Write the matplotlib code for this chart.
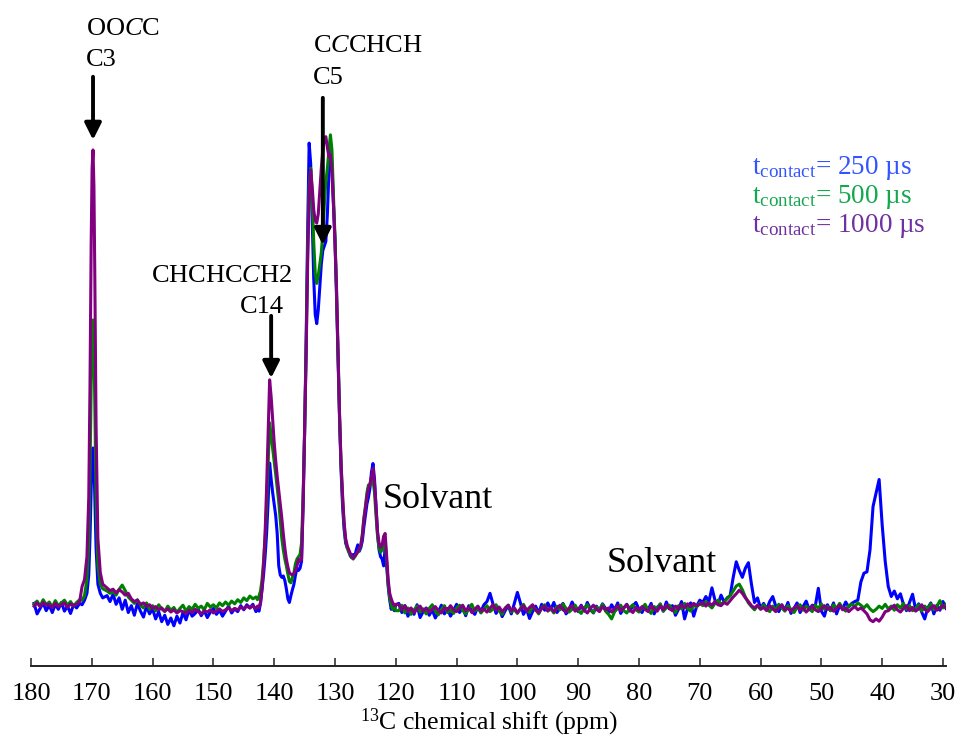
import matplotlib
matplotlib.use("Agg")
import matplotlib.pyplot as plt

plt.rcParams['font.family'] = 'Liberation Serif'
plt.rcParams['mathtext.fontset'] = 'custom'
plt.rcParams['mathtext.rm'] = 'Liberation Serif'
plt.rcParams['mathtext.it'] = 'Liberation Serif:italic'
plt.rcParams['mathtext.bf'] = 'Liberation Serif:bold'

# chemical shift grid (ppm), finer around the peaks
ppm = [
    179.5, 179.0, 178.5, 178.0, 177.5, 177.0, 176.5, 176.0, 175.5, 175.0, 174.5, 174.0, 173.5, 173.0, 172.5, 172.0,
    171.6, 171.2, 170.8, 170.5, 170.3, 170.1, 169.95, 169.8, 169.65, 169.5, 169.3, 169.0, 168.6, 168.2,
    167.5, 167.0, 166.5, 166.0, 165.5, 165.0, 164.5, 164.0, 163.5, 163.0, 162.5, 162.0, 161.5, 161.0, 160.5, 160.0,
    159.5, 159.0, 158.5, 158.0, 157.5, 157.0, 156.5, 156.0, 155.5, 155.0, 154.5, 154.0, 153.5, 153.0, 152.5, 152.0,
    151.5, 151.0, 150.5, 150.0, 149.5, 149.0, 148.5, 148.0, 147.5, 147.0, 146.5, 146.0, 145.5, 145.0, 144.5, 144.0, 143.5,
    143.0, 142.75, 142.5, 142.25, 142.0, 141.75, 141.5, 141.25, 141.0, 140.75, 140.5, 140.25,
    140.0, 139.75, 139.5, 139.25, 139.0, 138.75, 138.5, 138.25, 138.0, 137.75, 137.5, 137.25,
    137.0, 136.75, 136.5, 136.25, 136.0, 135.75, 135.5, 135.25, 135.0, 134.75, 134.5, 134.25,
    134.0, 133.75, 133.5, 133.25, 133.0, 132.75, 132.5, 132.25, 132.0, 131.75, 131.5, 131.25,
    131.0, 130.75, 130.5, 130.25, 130.0, 129.75, 129.5, 129.25, 129.0, 128.75, 128.5, 128.25,
    128.0, 127.75, 127.5, 127.25, 127.0, 126.75, 126.5, 126.25, 126.0, 125.75, 125.5, 125.25,
    125.0, 124.75, 124.5, 124.25, 124.0, 123.75, 123.5, 123.25, 123.0, 122.75, 122.5, 122.25,
    122.0, 121.75, 121.5, 121.25, 121.0, 120.75, 120.5, 120.25, 120.0,
    119.5, 119.0, 118.5, 118.0, 117.5, 117.0, 116.5, 116.0, 115.5, 115.0,
    114.5, 114.0, 113.5, 113.0, 112.5, 112.0, 111.5, 111.0, 110.5, 110.0,
    109.5, 109.0, 108.5, 108.0, 107.5, 107.0, 106.5, 106.0, 105.5, 105.0,
    104.5, 104.0, 103.5, 103.0, 102.5, 102.0, 101.5, 101.0, 100.5, 100.0,
    99.5, 99.0, 98.5, 98.0, 97.5, 97.0, 96.5, 96.0, 95.5, 95.0,
    94.5, 94.0, 93.5, 93.0, 92.5, 92.0, 91.5, 91.0, 90.5, 90.0,
    89.5, 89.0, 88.5, 88.0, 87.5, 87.0, 86.5, 86.0, 85.5, 85.0,
    84.5, 84.0, 83.5, 83.0, 82.5, 82.0, 81.5, 81.0, 80.5, 80.0,
    79.5, 79.0, 78.5, 78.0, 77.5, 77.0, 76.5, 76.0, 75.5, 75.0,
    74.5, 74.0, 73.5, 73.0, 72.5, 72.0, 71.5, 71.0, 70.5, 70.0,
    69.5, 69.0, 68.5, 68.0, 67.5, 67.0, 66.5, 66.0, 65.5, 65.0,
    64.5, 64.0, 63.5, 63.0, 62.5, 62.0, 61.5, 61.0, 60.5, 60.0,
    59.5, 59.0, 58.5, 58.0, 57.5, 57.0, 56.5, 56.0, 55.5, 55.0,
    54.5, 54.0, 53.5, 53.0, 52.5, 52.0, 51.5, 51.0, 50.5, 50.0,
    49.5, 49.0, 48.5, 48.0, 47.5, 47.0, 46.5, 46.0, 45.5, 45.0,
    44.5, 44.0, 43.5, 43.0, 42.5, 42.0, 41.5, 41.0, 40.5, 40.0,
    39.5, 39.0, 38.5, 38.0, 37.5, 37.0, 36.5, 36.0, 35.5, 35.0,
    34.5, 34.0, 33.5, 33.0, 32.5, 32.0, 31.5, 31.0, 30.5, 30.0,
    29.5,
]

# t_contact = 250 us
int_250 = [
    0.8, -1.5, -0.3, 0.9, -0.8, 0.4, -1.2, 0.6, -0.5, 1.0, -0.9, 0.2, -1.4, 0.5, -0.2, 0.8,
    0.5, 1.5, 3, 7, 15, 26, 33, 34.8, 32, 24, 13, 5, 3.0, 2.0,
    2.5, 1.2, 2.8, 0.6, 2.0, -0.5, 1.5, -1.2, 0.3, -1.8, 0.8, -0.9, -2.2, 0.2, -1.5, -0.4,
    -2.6, -1.0, -3.2, -1.8, -3.8, -2.4, -4.1, -2.0, -3.5, -1.2, -2.8, -0.6, -2.0, -1.4, -0.5, -1.9,
    -0.8, -2.3, -1.1, -0.3, -1.6, -0.7, -2.0, -0.9, 0.2, -1.3, -0.4, -1.0, 0.3, -0.6, 0.5, -0.2, 0.6,
    -1.0, -0.3, -0.9, 0.8, 4, 7, 11, 16, 23, 31.5, 28, 25,
    22.5, 20, 16, 9, 7, 6.5, 6.8, 5.8, 4.0, 1.8, 1.0, 2.5,
    3.8, 5.0, 7.0, 8.5, 8.0, 8.5, 10, 22, 38, 58, 82, 101.5,
    97, 85, 72, 64, 62, 65, 70, 75, 78, 79, 80, 86,
    95, 100, 97, 88, 80, 68, 54, 41, 30, 22, 17, 14,
    13, 12.5, 11.2, 10.8, 11.5, 11.0, 12.5, 13.6, 12.2, 13.0, 14.5, 17.5,
    20, 22.5, 24, 26, 29.5, 31.4, 28, 22, 16, 12.5, 11.0, 10.5,
    9.0, 13, 9, 4.5, 1.5, -0.5, 0.8, -0.8, 0.5,
    0.8, -1.2, 0.3, -2.0, -0.5, -1.6, 0.5, -2.3, -1.0, -0.2,
    -1.8, -0.6, -2.4, -1.1, 0.4, -1.5, -0.3, -2.0, -0.8, 0.6,
    -1.2, -0.1, -1.9, 0.3, -0.9, -1.6, 0.1, -1.0, 0.5, 1.2,
    3.0, 0.6, -1.4, -0.2, -2.1, -0.8, 0.3, -1.5, 0.8, 3.2,
    0.9, -1.6, -0.4, -2.5, -1.0, 0.2, -1.3, 0.6, -0.7, 0.9,
    -0.5, 1.0, -1.2, -0.3, 0.8, -1.5, -0.6, 1.1, -0.2, -1.0,
    0.4, -0.9, 1.0, -0.4, -1.3, 0.2, -0.8, 0.7, -0.3, -1.1,
    0.5, -0.6, 0.9, -1.4, -0.2, 0.6, -0.9, 0.3, 1.0, -0.5,
    -1.2, 0.2, -0.6, 0.8, -1.5, -0.1, 0.6, -0.9, 1.1, -0.4,
    0.3, -1.8, -0.5, 1.2, -2.6, -0.3, 0.9, -2.0, 0.2, 1.5,
    1.0, 2.3, 1.2, 4.2, 1.5, 0.6, 2.6, 1.1, 2.0, 2.5,
    6.5, 9.9, 8.0, 6.5, 8.5, 9.7, 5.0, 1.0, 2.0, -0.3,
    0.8, -0.5, 1.2, 2.3, 0.2, -1.0, 0.5, -0.7, 1.0, -1.4,
    -0.3, 0.9, -1.2, 0.1, 1.3, -0.6, 0.4, 0.2, 4.1, -0.9,
    -2.0, 0.5, -0.8, 0.9, -1.5, 0.3, -0.4, 1.1, 0.0, 0.8,
    1.2, 1.5, 5.5, 7.4, 7.7, 12.5, 22, 25, 27.9, 18,
    10, 4.5, 2.3, 3.5, 1.8, 2.9, 0.6, -0.8, 1.0, 2.8,
    -0.5, 0.7, -1.1, -2.6, -0.2, 0.9, -1.5, 0.4, -0.7, 1.2,
    -0.3,
]

# t_contact = 500 us
int_500 = [
    0.6, 1.3, 0.2, 1.6, 0.5, 1.1, 0.0, 1.4, 0.3, 0.9, 1.5, 0.4, 1.2, 0.2, 1.0, 1.6,
    1.5, 2.5, 6, 14, 29, 49, 59, 62.8, 57, 44, 24, 9, 5.0, 4.0,
    3.5, 3.0, 3.4, 2.6, 3.9, 4.8, 3.6, 2.2, 1.5, 0.8, 1.6, 0.4, -0.2, 0.9, -0.5, 0.3,
    -0.8, 0.5, -0.4, -1.0, 0.2, -0.7, -0.1, -1.2, -0.3, 0.4, -0.9, 0.1, -0.5, 0.6, -0.3, 0.2,
    -0.6, 0.8, 0.0, 0.5, -0.2, 0.9, 0.3, 1.1, 0.4, 1.3, 0.7, 1.6, 1.0, 2.0, 1.4, 2.4, 1.8,
    2.2, 1.6, 2.4, 3.5, 6, 10, 15, 22, 31, 40.3, 37.5, 34.5,
    32, 29, 26, 23, 19, 15, 12.5, 10.5, 9.0, 7.2, 5.6, 5.3,
    6.5, 7.5, 9.5, 10.5, 11, 11.5, 14, 24, 38, 56, 78, 92,
    96, 90, 80, 73, 70.8, 72.5, 75, 77.5, 82, 88, 93, 96,
    100, 103.3, 100, 90, 81, 69, 55, 42, 31, 23.5, 18, 14.5,
    13, 12, 11.5, 10.8, 10.5, 11.0, 11.5, 12, 12.5, 13.5, 16, 19.5,
    22, 25, 26.7, 26.5, 27, 28, 25, 20, 15.5, 13, 12, 12.5,
    14, 14.5, 10, 5, 2.0, 0.5, -0.5, 0.3, -0.8,
    -0.8, 0.4, -1.3, -0.2, -1.6, -0.6, 0.2, -1.1, -0.4, -1.5,
    -0.3, 0.5, -0.9, -1.7, -0.5, 0.3, -1.2, -0.6, -1.4, -0.2,
    0.4, -0.7, -1.5, -0.3, 0.6, -0.9, -0.1, -1.3, -0.5, 0.3,
    -1.0, -0.4, 0.5, -0.8, -1.6, -0.2, 0.4, -1.1, -0.6, -1.4,
    -0.3, 0.6, -0.7, -1.2, 0.1, -0.5, -1.5, -0.2, 0.5, -0.9,
    -0.4, -1.3, 0.2, -0.6, 0.7, -0.3, -1.1, -0.5, 0.4, -0.8,
    -1.4, -0.2, 0.5, -0.7, -1.2, 0.0, -0.6, 0.6, -0.9, -1.6,
    -2.6, -1.0, -0.3, 0.4, -0.8, -1.3, -0.1, 0.5, -0.6, -1.1,
    -0.2, 0.6, -0.7, -1.4, 0.1, -0.5, 0.7, -0.9, -0.2, 0.4,
    -0.6, -1.2, 0.3, -0.4, 0.8, -0.3, -0.9, 0.5, 0.0, 0.9,
    0.3, 1.2, 0.4, -0.2, 0.8, 1.5, 0.6, 1.1, 1.8, 2.5,
    3.5, 4.6, 5.0, 3.8, 2.2, 0.9, 0.1, -0.6, 0.3, -0.4,
    0.5, -0.3, -1.0, 0.2, -0.6, 0.6, -0.2, -0.9, 0.3, -0.5,
    -1.2, -0.1, 0.5, -0.7, 0.2, -0.4, -1.0, 0.4, -0.3, 0.7,
    -0.5, 0.1, -0.8, 0.5, -0.3, 0.8, -0.2, -0.9, 0.3, 0.6,
    0.1, 0.9, 0.4, -0.2, 0.5, -0.4, -1.0, -0.5, 0.2, -0.3,
    0.6, -0.4, 0.2, -0.7, 0.5, -0.2, 0.8, -0.5, 0.3, -0.8,
    -0.3, 0.5, -0.9, 0.2, -0.5, 0.7, -0.6, 0.1, 1.4, -0.2,
    0.6,
]

# t_contact = 1000 us
int_1000 = [
    0.2, 0.9, 0.1, 1.0, 0.4, 0.6, -0.2, 0.8, 0.1, 0.5, 0.9, -0.1, 0.7, 0.3, 0.6, 1.2,
    4.5, 6.0, 11, 24, 48, 80, 96, 100, 92, 72, 40, 15, 7.5, 5.0,
    4.2, 3.6, 3.9, 3.1, 3.8, 3.3, 2.6, 3.0, 1.8, 1.2, 1.5, 0.6, 0.9, 0.2, 0.5, -0.3,
    0.1, -0.6, -0.2, -0.9, -0.4, -1.1, -0.6, -1.3, -0.8, -1.0, -1.4, -0.7, -1.2, -0.5, -1.0, -1.5,
    -0.8, -1.1, -0.6, -1.3, -0.9, -0.4, -1.0, -0.6, -0.2, -0.8, -0.3, -0.6, 0.0, -0.4, 0.2, -0.2, 0.3,
    -0.4, 0.2, -0.1, 1.0, 4, 9, 16, 26, 38, 49.7, 46, 41,
    36, 32, 28.5, 25.5, 22.5, 19.5, 16, 13, 10.5, 8.8, 7.5, 7.2,
    7.0, 7.3, 8, 9, 10.5, 10, 10.5, 22, 38, 55, 75, 90,
    95.6, 92, 87, 84.5, 84, 86, 91, 96, 100, 102.5, 102.9, 100.5,
    98.5, 99, 95, 88, 80, 70, 56, 42, 31.5, 24.5, 18.5, 15,
    13.5, 12.5, 11.8, 11.0, 10.7, 11.2, 11.6, 12.2, 12.8, 13.5, 15.5, 19,
    21.5, 24, 26, 27, 28.5, 30.3, 27, 22, 16.5, 14, 13, 13.5,
    15.5, 16.1, 11, 6, 3.0, 1.8, 0.9, 0.3, 0.6,
    0.5, -0.6, 0.3, -1.0, -0.2, -1.2, -0.4, 0.2, -0.9, -0.3,
    -1.1, -0.5, 0.1, -0.8, -1.3, -0.2, -0.7, 0.3, -0.6, -1.0,
    -0.3, 0.4, -0.8, -0.1, -1.2, -0.5, 0.2, -0.9, -0.4, -1.1,
    -0.2, 0.5, -0.7, 0.0, -1.0, -0.3, 0.4, -0.8, -0.2, -1.2,
    -0.5, 0.3, -0.9, -0.1, 0.5, -0.7, -1.2, -0.3, 0.2, -0.8,
    -0.1, -1.0, -0.4, 0.4, -0.6, -1.1, -0.2, 0.3, -0.9, -0.4,
    0.2, -0.7, -1.3, -0.3, 0.4, -0.5, -1.0, 0.1, -0.6, -0.2,
    -1.1, -0.4, 0.3, -0.8, -0.2, 0.5, -0.6, -1.2, -0.1, -0.7,
    0.1, -0.5, -1.0, 0.3, -0.4, -0.9, 0.2, -0.6, 0.4, -0.3,
    -0.8, 0.2, -0.4, 0.5, -0.2, 0.7, 0.1, 0.8, 0.3, 0.6,
    1.0, 0.2, 0.9, 0.4, 1.2, 0.5, 0.3, 1.0, 0.6, 1.4,
    2.2, 2.9, 3.7, 3.0, 2.0, 1.2, 0.3, -0.2, 0.4, -0.5,
    -0.1, -0.8, 0.3, -0.4, -1.0, -0.2, 0.4, -0.6, -0.3, -0.9,
    -0.2, 0.3, -0.7, -0.1, -1.1, -0.4, 0.2, -0.6, -1.0, -0.3,
    0.3, -0.5, -0.1, -0.9, -0.3, 0.4, -0.6, -0.2, -1.0, -0.4,
    0.1, -0.6, -0.2, -0.8, -1.5, -2.8, -3.2, -2.6, -3.1, -2.2,
    -1.0, -0.8, -0.2, 0.4, -0.6, -1.1, -0.3, 0.3, -0.8, -0.1,
    -0.9, -0.4, 0.5, -0.5, -1.0, -0.2, 0.3, -0.7, -0.3, 0.4,
    -0.2,
]

series = [int_250, int_500, int_1000]
line_colors = ['#0000ff', '#008000', '#800080']
legend_labels = [r't$_{\mathrm{contact}}$= 250 µs',
                 r't$_{\mathrm{contact}}$= 500 µs',
                 r't$_{\mathrm{contact}}$= 1000 µs']
legend_colors = ['#3355ff', '#12a84e', '#7030a0']

xticks = [180, 170, 160, 150, 140, 130, 120, 110, 100, 90, 80, 70, 60, 50, 40, 30]

W, H = 963, 740


def fpos(x, y):
    # pixel position in the picture -> figure fraction
    return x / W, 1 - y / H


fig = plt.figure(figsize=(W / 100, H / 100), dpi=100)
ax = fig.add_axes([31 / W, 74 / H, 915 / W, 666 / H])

for vals, c in zip(series, line_colors):
    ax.plot(ppm, vals, color=c, lw=2.2, solid_joinstyle='round')

ax.set_xlim(180, 29.5)
ax.set_ylim(-12.9, 132.8)
for s in ['left', 'right', 'top']:
    ax.spines[s].set_visible(False)
ax.spines['bottom'].set_linewidth(1.4)
ax.spines['bottom'].set_color('#222222')
ax.set_yticks([])
ax.set_xticks(xticks)
ax.set_xticklabels([str(t) for t in xticks])
ax.tick_params(axis='x', direction='in', length=6, width=1.1, color='#222222',
               labelsize=19, pad=12)
ax.set_xlabel(r'$^{13}$C chemical shift (ppm)', fontsize=18.5, labelpad=1.5)

# peak assignments
arrow = dict(arrowstyle='-|>', lw=2.8, color='black', mutation_scale=25,
             shrinkA=0, shrinkB=0)
ax.annotate('', xy=(169.8, 102.2), xytext=(169.8, 116.0), arrowprops=arrow)
ax.annotate('', xy=(132.0, 79.2), xytext=(132.0, 111.4), arrowprops=arrow)
ax.annotate('', xy=(140.5, 50.1), xytext=(140.5, 63.7), arrowprops=arrow)

fig.text(*fpos(86, 35), r'OO$\mathit{C}$C', fontsize=19, va='baseline')
fig.text(*fpos(86, 66), 'C3', fontsize=19, va='baseline')
fig.text(*fpos(313, 52), r'C$\mathit{C}$CHCH', fontsize=19, va='baseline')
fig.text(*fpos(313, 84), 'C5', fontsize=19, va='baseline')
fig.text(*fpos(151, 282), r'CHCHC$\mathit{C}$H2', fontsize=19, va='baseline')
fig.text(*fpos(240, 313), 'C14', fontsize=19, va='baseline')
fig.text(*fpos(383, 508), 'Solvant', fontsize=26, va='baseline')
fig.text(*fpos(607, 572), 'Solvant', fontsize=26, va='baseline')

for i, (lab, c) in enumerate(zip(legend_labels, legend_colors)):
    fig.text(*fpos(752, 174 + 29 * i), lab, fontsize=19.5, color=c, va='baseline')

fig.savefig('out.png', dpi=100)
